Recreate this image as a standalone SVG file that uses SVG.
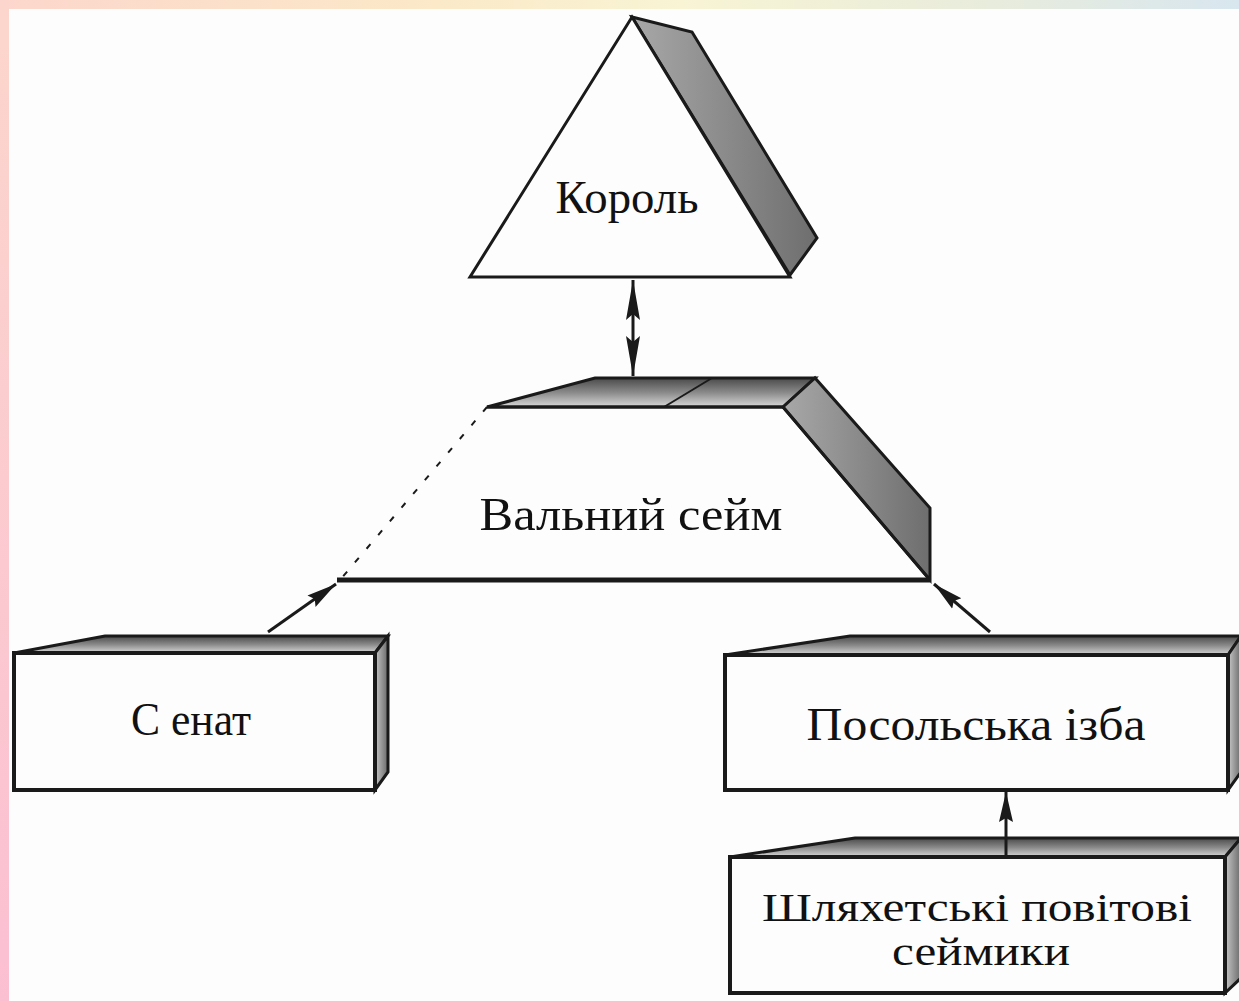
<svg xmlns="http://www.w3.org/2000/svg" width="1239" height="1001" viewBox="0 0 1239 1001">
<defs>
<linearGradient id="bgTop" x1="0" y1="0" x2="1" y2="0">
<stop offset="0" stop-color="#fcd6cc"/><stop offset="0.35" stop-color="#fbe9c8"/><stop offset="0.55" stop-color="#f8f4d4"/><stop offset="0.8" stop-color="#e8ecdc"/><stop offset="1" stop-color="#d8e6ef"/>
</linearGradient>
<linearGradient id="bgLeft" x1="0" y1="0" x2="0" y2="1">
<stop offset="0" stop-color="#fcd6cc"/><stop offset="1" stop-color="#fbbfd2"/>
</linearGradient>
<linearGradient id="sideG" x1="0" y1="0" x2="1" y2="0">
<stop offset="0" stop-color="#a8a8a8"/><stop offset="1" stop-color="#6e6e6e"/>
</linearGradient>
<linearGradient id="topG" x1="0" y1="0" x2="0" y2="1">
<stop offset="0" stop-color="#4a4a4a"/><stop offset="0.5" stop-color="#8a8a8a"/><stop offset="1" stop-color="#d8d8d8"/>
</linearGradient>
<linearGradient id="boxSide" x1="0" y1="0" x2="1" y2="0">
<stop offset="0" stop-color="#c8c8c8"/><stop offset="1" stop-color="#6a6a6a"/>
</linearGradient>
<marker id="ahLong" viewBox="0 0 40 16" refX="40" refY="8" markerWidth="40" markerHeight="16" markerUnits="userSpaceOnUse" orient="auto-start-reverse">
<path d="M0,1 L40,8 L0,15 L6,8 z" fill="#1a1a1a"/>
</marker>
<marker id="ahBig" viewBox="0 0 30 16" refX="30" refY="8" markerWidth="30" markerHeight="16" markerUnits="userSpaceOnUse" orient="auto-start-reverse">
<path d="M0,1 L30,8 L0,15 L4,8 z" fill="#1a1a1a"/>
</marker>
</defs>
<style>
.edge{stroke:#1a1a1a;stroke-width:3;fill:none;stroke-linejoin:miter}
.front{fill:#fdfdfd;stroke:#1a1a1a;stroke-width:4}
.shade{stroke:#1a1a1a;stroke-width:3;stroke-linejoin:miter}
.lbl{font-family:"Liberation Serif","Times New Roman",serif;font-size:46px;fill:#111;text-anchor:middle}
.lbl2{font-family:"Liberation Serif","Times New Roman",serif;font-size:40px;fill:#111;text-anchor:middle}
.conn{stroke:#1a1a1a;stroke-width:3;fill:none}
</style>
<rect x="0" y="0" width="1239" height="1001" fill="#fdfdfd"/>
<rect x="0" y="0" width="1239" height="9" fill="url(#bgTop)"/>
<rect x="0" y="0" width="9" height="1001" fill="url(#bgLeft)"/>

<g id="korol">
<polygon class="shade" points="632,17 692,32 817,238 790,275" fill="url(#sideG)"/>
<polygon points="632,17 790,277 470,277" fill="#fdfdfd" stroke="#1a1a1a" stroke-width="3"/>
<text class="lbl" x="627" y="213" textLength="143" lengthAdjust="spacingAndGlyphs">Король</text>
</g>

<g id="valnyi-seim">
<polygon points="487,407 783,407 930,580 340,580" fill="#fdfdfd"/>
<polygon class="shade" points="487,407 595,378 815,378 783,407" fill="url(#topG)"/>
<line x1="712" y1="378" x2="664" y2="407" stroke="#1a1a1a" stroke-width="2"/>
<polygon class="shade" points="783,407 815,378 930,508 930,580" fill="url(#sideG)"/>
<line x1="487" y1="407" x2="783" y2="407" class="edge"/>
<line x1="783" y1="407" x2="930" y2="580" class="edge"/>
<line x1="337" y1="580" x2="930" y2="580" stroke="#1a1a1a" stroke-width="5"/>
<line x1="487" y1="407" x2="340" y2="580" stroke="#1a1a1a" stroke-width="2" stroke-dasharray="6,12"/>
<text class="lbl" x="631" y="530" textLength="303" lengthAdjust="spacingAndGlyphs">Вальний сейм</text>
</g>

<g id="senat">
<polygon class="shade" points="14,653 105,636 388,636 375,653" fill="url(#topG)"/>
<polygon class="shade" points="375,653 388,636 388,772 375,790" fill="url(#boxSide)"/>
<rect class="front" x="14" y="653" width="361" height="137"/>
<text class="lbl" x="191" y="735" textLength="120" lengthAdjust="spacingAndGlyphs">С енат</text>
</g>

<g id="posolska-izba">
<polygon class="shade" points="725,655 850,636 1241,636 1228,655" fill="url(#topG)"/>
<polygon class="shade" points="1228,655 1241,636 1241,772 1228,790" fill="url(#boxSide)"/>
<rect class="front" x="725" y="655" width="503" height="135"/>
<text class="lbl" x="976" y="740" textLength="339" lengthAdjust="spacingAndGlyphs">Посольська ізба</text>
</g>

<g id="shliakhetski-seimyky">
<polygon class="shade" points="730,857 855,838 1241,838 1225,857" fill="url(#topG)"/>
<polygon class="shade" points="1225,857 1241,838 1241,978 1225,993" fill="url(#boxSide)"/>
<rect class="front" x="730" y="857" width="495" height="136"/>
<text class="lbl2" x="977" y="921" textLength="430" lengthAdjust="spacingAndGlyphs">Шляхетські повітові</text>
<text class="lbl2" x="981" y="965" textLength="178" lengthAdjust="spacingAndGlyphs">сеймики</text>
</g>

<g id="connectors">
<line class="conn" x1="633" y1="280" x2="633" y2="376" marker-start="url(#ahLong)" marker-end="url(#ahLong)"/>
<line class="conn" x1="268" y1="632" x2="336" y2="584" marker-end="url(#ahBig)"/>
<line class="conn" x1="990" y1="632" x2="934" y2="584" marker-end="url(#ahBig)"/>
<line class="conn" x1="1006" y1="855" x2="1006" y2="792" marker-end="url(#ahBig)"/>
</g>
</svg>
